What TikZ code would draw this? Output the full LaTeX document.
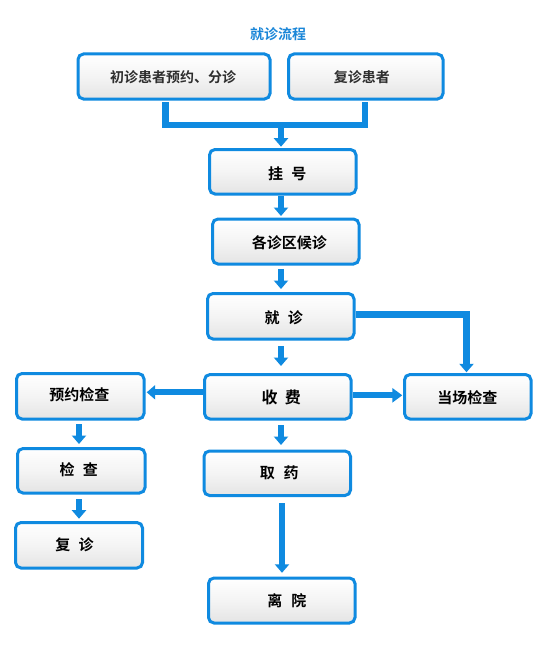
\documentclass[tikz,border=0pt]{standalone}
\usepackage{fontspec}
\setmainfont{Noto Sans CJK SC}[BoldFont={Noto Sans CJK SC Bold}]
\usetikzlibrary{arrows.meta}
\definecolor{flowblue}{HTML}{0F8AE0}
\definecolor{titleblue}{HTML}{1A86D8}
\definecolor{boxgrey}{HTML}{E4E4E4}
\definecolor{darktext}{HTML}{2E2E2E}
\newcommand{\nudge}[2]{\kern#1pt\relax #2\kern-#1pt\relax}
\newcommand{\pbox}[8]{% name, left, top, right, bottom, dx, dy, text
  \node[flowbox,minimum width={#4pt-#2pt-3pt},minimum height={#5pt-#3pt-3pt}] (#1)
    at ({(#2+#4)/2},{(#3+#5)/2}) {\raisebox{\dimexpr -0.38em-#7pt\relax}[0pt][0pt]{\nudge{#6}{#8}}};}
\tikzset{
  flowbox/.style={draw=flowblue,line width=3pt,rounded corners=5.5pt,top color=white,bottom color=boxgrey,
    middle color=white!60!boxgrey,inner sep=0pt,font=\fontsize{15}{16}\selectfont\bfseries,text=black},
  flowline/.style={draw=flowblue,line width=6.5pt},
  flowarrow/.style={flowline,-{Triangle[length=8.5pt,width=14pt]}},
}
\begin{document}
\begin{tikzpicture}[x=1pt,y=-1pt]
\useasboundingbox (0,0) rectangle (553,669);
\fill[white] (0,0) rectangle (553,669);
\node[font=\fontsize{14}{16}\selectfont\bfseries,text=titleblue] (title) at (278,34) {就诊流程};
\pbox{first}{76.5}{52.5}{271.5}{100.5}{-1}{0}{\fontsize{14}{16}\selectfont\textcolor{darktext}{初诊患者预约、分诊}}
\pbox{revisit}{287}{52.5}{444.5}{100.5}{-4}{0}{\fontsize{14}{16}\selectfont\textcolor{darktext}{复诊患者}}
\pbox{reg}{208}{148}{357.5}{195.5}{4.5}{1.6}{挂\hspace{0.55em}号}
\pbox{wait}{211}{217.5}{360.5}{265.5}{3.5}{1.2}{各诊区候诊}
\pbox{see}{206}{292}{355.5}{340.5}{3}{1.3}{就\hspace{0.55em}诊}
\pbox{pay}{203}{373}{352.5}{420.5}{3.5}{1}{\fontsize{16}{16}\selectfont 收\hspace{0.45em}费}
\pbox{onsite}{403}{373}{532.5}{420.5}{-0.5}{1}{当场检查}
\pbox{book}{15}{372}{145.5}{420.5}{-1}{-1.7}{预约检查}
\pbox{check}{16}{447}{146.5}{494.5}{-2.5}{-0.5}{检\hspace{0.55em}查}
\pbox{again}{14}{521}{144}{569.5}{-4.5}{0}{复\hspace{0.55em}诊}
\pbox{drug}{202.5}{449.5}{352}{497}{2}{0}{取\hspace{0.6em}药}
\pbox{leave}{207}{576.5}{356.5}{624.5}{5}{0.5}{离\hspace{0.6em}院}

\coordinate (junction) at (281,125);
\draw[flowline,shorten <=1.5pt,shorten >=1.5pt] (165.5,0 |- first.south) |- (junction) -| (365,0 |- revisit.south);
\draw[flowarrow,shorten >=1.3pt] (junction) -- (281,0 |- reg.north);
\draw[flowarrow,shorten >=1.5pt] (281,0 |- reg.south) -- (281,0 |- wait.north);
\draw[flowarrow,shorten <=3.5pt,shorten >=3pt] (281,0 |- wait.south) -- (281,0 |- see.north);
\draw[flowarrow,shorten <=5.5pt,shorten >=7pt] (281,0 |- see.south) -- (281,0 |- pay.north);
\draw[flowarrow,shorten <=4.5pt,shorten >=4.5pt] (281,0 |- pay.south) -- (281,0 |- drug.north);
\draw[flowarrow,shorten <=6pt,shorten >=3.7pt] (282,0 |- drug.south) -- (282,0 |- leave.north);
\draw[flowarrow,shorten <=3.5pt,shorten >=3pt] (79,0 |- book.south) -- (79,0 |- check.north);
\draw[flowarrow,shorten <=4.8pt,shorten >=2.3pt] (79,0 |- check.south) -- (79,0 |- again.north);
\draw[flowarrow,line width=6pt,shorten >=1.2pt] (pay.west |- 0,392.3) -- (book.east |- 0,392.3);
\draw[flowarrow,line width=6pt,-{Triangle[length=10pt,width=14pt]},shorten >=0.7pt] (pay.east |- 0,395.3) -- (onsite.west |- 0,395.3);
\draw[flowarrow,shorten >=0.7pt] (see.east |- 0,314.3) -| (466.5,0 |- onsite.north);
\end{tikzpicture}
\end{document}
